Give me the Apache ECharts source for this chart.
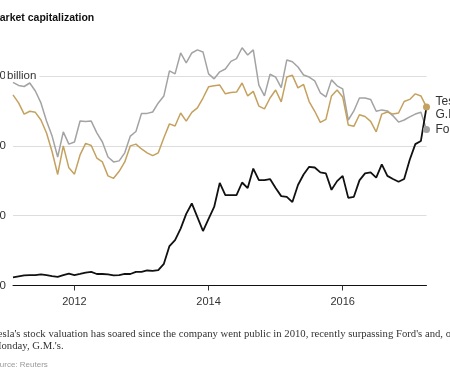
<!DOCTYPE html>
<html>
<head>
<meta charset="utf-8">
<script src="https://cdn.jsdelivr.net/npm/echarts@6/dist/echarts.min.js"></script>
<style>
  html, body { margin: 0; padding: 0; background: #fff; }
  #chart { width: 450px; height: 375px; }
</style>
</head>
<body>
<div id="chart"></div>
<script>
// monthly points, Feb 2011 .. Apr 2017 (market cap, $ billion)
const months = []
for (let i = 0; i < 75; i++) {
  const d = 2011 * 12 + 1 + i
  months.push(`${Math.floor(d / 12)}-${String(d % 12 + 1).padStart(2, '0')}`)
}

const tesla = [2.3, 2.6, 2.9, 3.0, 3.0, 3.2, 3.0, 2.7, 2.5, 3.0,
  3.4, 3.0, 3.3, 3.7, 3.9, 3.3, 3.3, 3.2, 2.9, 3.0,
  3.3, 3.3, 3.9, 3.9, 4.3, 4.2, 4.4, 6.2, 11.3, 13.0,
  16.3, 20.5, 23.5, 19.6, 15.6, 19.1, 22.5, 29.4, 25.9, 25.9,
  25.9, 29.5, 27.9, 33.5, 30.2, 30.2, 30.5, 27.9, 25.6, 25.4,
  23.9, 28.8, 31.8, 34.0, 33.8, 32.4, 32.1, 27.4, 29.9, 31.4,
  25.1, 25.4, 30.1, 32.1, 32.4, 30.9, 34.7, 31.4, 30.5, 29.7,
  30.5, 36.0, 40.5, 41.4, 51.1]

const gm = [54.6, 52.3, 49.1, 49.9, 49.6, 47.4, 43.7, 38.3, 31.8, 40.0,
  33.7, 31.9, 37.4, 40.7, 40.1, 36.5, 35.4, 31.4, 30.7, 32.7,
  35.4, 40.0, 40.5, 39.1, 38.0, 37.2, 38.0, 42.3, 46.3, 45.7,
  49.4, 47.1, 49.6, 50.9, 53.7, 56.9, 57.2, 57.4, 54.9, 55.3,
  55.4, 58.0, 54.3, 55.6, 51.4, 50.6, 53.7, 56.0, 52.6, 59.7,
  60.2, 56.6, 57.6, 52.7, 49.9, 46.7, 47.6, 54.3, 56.0, 54.0,
  46.0, 45.6, 48.9, 48.4, 47.0, 44.0, 49.1, 49.7, 49.1, 49.4,
  52.7, 53.3, 54.9, 54.3, 51.1]

const ford = [58.2, 57.3, 57.0, 58.0, 55.7, 52.3, 47.1, 42.8, 36.8, 44.0,
  40.5, 41.1, 47.1, 47.0, 47.1, 43.7, 41.1, 36.8, 35.4, 35.7,
  38.0, 42.8, 44.1, 49.3, 49.3, 49.7, 52.3, 54.3, 61.5, 60.6,
  66.6, 63.8, 66.6, 67.5, 66.9, 60.6, 59.2, 61.2, 62.0, 64.2,
  65.0, 68.1, 66.0, 67.5, 57.4, 54.3, 60.5, 59.7, 56.7, 64.6,
  64.1, 62.6, 60.3, 59.7, 58.6, 55.2, 54.0, 58.9, 57.2, 56.3,
  47.4, 50.0, 53.7, 53.7, 53.3, 49.9, 50.3, 50.0, 48.6, 46.8,
  47.4, 48.3, 49.1, 49.6, 44.7]

const tickMonths = ['2012-01', '2014-01', '2016-01']

const caption = "Tesla's stock valuation has soared since the company went public in 2010, recently surpassing Ford's and, on\nMonday, G.M.'s."

const SANS = '"Liberation Sans", Arial, sans-serif'
const last = months.length - 1
const dotAtEnd = (v, p) => (p.dataIndex === last ? 7 : 0)

function lineSeries(name, data, color, width, labelOffset, withDot) {
  return {
    name,
    type: 'line',
    data,
    symbol: withDot ? 'circle' : 'none',
    showSymbol: withDot,
    symbolSize: dotAtEnd,
    itemStyle: { color },
    lineStyle: { color, width },
    endLabel: {
      show: true,
      formatter: '{a}',
      color: '#333',
      fontFamily: SANS,
      fontSize: 12,
      distance: 9,
      offset: labelOffset
    },
    emphasis: { disabled: true }
  }
}

const chart = echarts.init(document.getElementById('chart'))

chart.setOption({
  animation: false,
  backgroundColor: '#fff',
  title: [
    {
      text: 'Market capitalization',
      left: -9, top: 11.5, padding: 0,
      textStyle: { fontFamily: SANS, fontSize: 10.5, fontWeight: 'bold', color: '#111', lineHeight: 13 }
    },
    {
      text: caption,
      left: -8, top: 327.5, padding: 0,
      textStyle: { fontFamily: '"Liberation Serif", Georgia, serif', fontSize: 10.7, fontWeight: 'normal', color: '#333', lineHeight: 12.5 }
    },
    {
      text: 'Source: Reuters',
      left: -10, top: 359.5, padding: 0,
      textStyle: { fontFamily: SANS, fontSize: 8, fontWeight: 'normal', color: '#999', lineHeight: 10 }
    }
  ],
  grid: { left: 13, right: 23.5, top: 6.2, bottom: 89.5, outerBoundsMode: 'none', containLabel: false },
  xAxis: {
    type: 'category',
    data: months,
    boundaryGap: false,
    axisLine: { lineStyle: { color: '#111', width: 1 } },
    axisTick: {
      show: true,
      length: 5,
      interval: (i, v) => tickMonths.includes(v),
      lineStyle: { color: '#333' }
    },
    axisLabel: {
      interval: (i, v) => tickMonths.includes(v),
      formatter: v => v.slice(0, 4),
      color: '#333',
      fontFamily: SANS,
      fontSize: 11,
      margin: 11
    },
    splitLine: { show: false }
  },
  yAxis: [
    {
      type: 'value',
      min: 0, max: 80, interval: 20,
      axisLine: { show: false },
      axisTick: { show: false },
      splitLine: { show: true, showMaxLine: false, lineStyle: { color: '#ddd', width: 1 } },
      axisLabel: {
        showMaxLabel: false,
        formatter: v => (v === 60 ? '$60' : String(v)),
        color: '#333',
        fontFamily: SANS,
        fontSize: 11.5,
        margin: 7
      }
    },
    {
      type: 'value',
      min: 0, max: 80, interval: 20,
      position: 'left',
      axisLine: { show: false },
      axisTick: { show: false },
      splitLine: { show: false },
      axisLabel: {
        inside: true,
        margin: -8,
        showMaxLabel: false,
        formatter: v => (v === 60 ? '{b|billion}' : ''),
        rich: {
          b: {
            color: '#333',
            fontFamily: SANS,
            fontSize: 11.5,
            backgroundColor: '#fff',
            padding: [2, 3, 2, 2]
          }
        }
      }
    }
  ],
  series: [
    lineSeries('Ford', ford, '#a3a3a3', 1.5, [0, 0], true),
    lineSeries('Tesla', tesla, '#111', 1.8, [0, -5], false),
    lineSeries('G.M.', gm, '#c4a15e', 1.5, [0, 7.5], true)
  ]
})
</script>
</body>
</html>
